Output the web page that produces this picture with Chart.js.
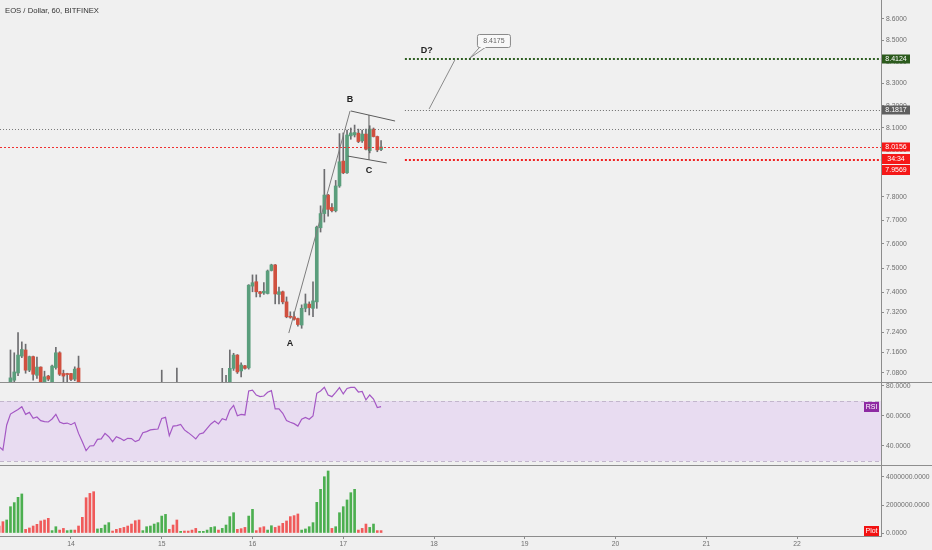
<!DOCTYPE html>
<html>
<head>
<meta charset="utf-8">
<script src="https://cdn.jsdelivr.net/npm/chart.js@4.4.0/dist/chart.umd.min.js"></script>
<style>
  body { margin: 0; width: 932px; height: 550px; overflow: hidden; position: relative; background: #f0f0f0; font-family: "Liberation Sans", Arial, sans-serif; }
  canvas { position: absolute; left: 0; }
  #title { position: absolute; left: 5px; top: 6px; font-size: 7.7px; color: #333; white-space: nowrap; }
  .sep { position: absolute; left: 0; width: 932px; height: 1px; background: #8e8e8e; }
</style>
</head>
<body>
<canvas id="priceChart" width="932" height="382" style="top:0"></canvas>
<canvas id="rsiChart" width="932" height="82" style="top:383px"></canvas>
<canvas id="volumeChart" width="932" height="85" style="top:465px"></canvas>
<div class="sep" style="top:382px"></div>
<div class="sep" style="top:465px"></div>
<div id="title">EOS / Dollar, 60, BITFINEX</div>
<script>
// hourly bars, hour 0 = day 14 00:00
const firstHour = -19;
const dayLabels = ['14', '15', '16', '17', '18', '19', '20', '21', '22'];
const priceTicks = [8.6, 8.5, 8.4, 8.3, 8.2, 8.1, 8.0, 7.9, 7.8, 7.7, 7.6, 7.5, 7.4, 7.32, 7.24, 7.16, 7.08];
const rsiTicks = [40, 60, 80];
const volumeTicks = [0, 2000000, 4000000];

// candles (only the bars that reach into the visible price range)
const candleHours = [-16, -15, -14, -13, -12, -11, -10, -9, -8, -7, -6, -5, -4, -3, -2, -1, 0, 1, 2,
  24, 28,
  40, 41, 42, 43, 44, 45, 46, 47, 48, 49, 50, 51, 52, 53, 54, 55, 56, 57, 58, 59, 60, 61,
  62, 63, 64, 65, 66, 67, 68, 69, 70, 71, 72, 73, 74, 75, 76, 77, 78, 79, 80, 81, 82];
const opens = [7.040, 7.052, 7.080, 7.146, 7.170, 7.091, 7.144, 7.071, 7.103, 7.046, 7.068, 7.046, 7.101, 7.159, 7.078, 7.076, 7.078, 7.056, 7.099,
  7.010, 7.010,
  7.020, 7.030, 7.030, 7.098, 7.150, 7.088, 7.108, 7.100, 7.426, 7.444, 7.403, 7.398, 7.396, 7.490, 7.513, 7.392, 7.403, 7.362, 7.304, 7.302, 7.295, 7.269,
  7.336, 7.353, 7.336, 7.362, 7.668, 7.728, 7.807, 7.754, 7.740, 7.846, 7.954, 7.903, 8.065, 8.069, 8.077, 8.043, 8.073, 8.000, 8.095, 8.062, 8.005];
const highs = [7.170, 7.159, 7.239, 7.202, 7.193, 7.146, 7.146, 7.142, 7.104, 7.087, 7.071, 7.111, 7.180, 7.163, 7.091, 7.079, 7.079, 7.104, 7.146,
  7.091, 7.099,
  7.098, 7.071, 7.170, 7.157, 7.152, 7.120, 7.110, 7.432, 7.472, 7.472, 7.405, 7.440, 7.492, 7.516, 7.515, 7.422, 7.406, 7.382, 7.322, 7.322, 7.297, 7.350,
  7.394, 7.362, 7.444, 7.675, 7.761, 7.918, 7.810, 7.771, 7.870, 8.075, 8.078, 8.091, 8.100, 8.113, 8.095, 8.091, 8.095, 8.110, 8.100, 8.064, 8.044];
const lows = [7.030, 7.040, 7.070, 7.140, 7.079, 7.085, 7.052, 7.059, 7.030, 7.030, 7.050, 7.030, 7.095, 7.070, 7.046, 7.046, 7.050, 7.050, 7.030,
  6.990, 6.990,
  7.000, 7.000, 7.020, 7.090, 7.078, 7.065, 7.095, 7.095, 7.403, 7.382, 7.382, 7.392, 7.394, 7.488, 7.354, 7.354, 7.354, 7.298, 7.296, 7.288, 7.264, 7.256,
  7.322, 7.309, 7.302, 7.336, 7.650, 7.692, 7.717, 7.735, 7.735, 7.840, 7.899, 7.900, 8.050, 8.060, 8.035, 8.036, 8.003, 7.990, 8.060, 7.995, 8.000];
const closes = [7.061, 7.084, 7.150, 7.172, 7.091, 7.144, 7.075, 7.103, 7.046, 7.065, 7.056, 7.107, 7.159, 7.075, 7.068, 7.074, 7.055, 7.095, 7.040,
  7.030, 7.020,
  7.030, 7.020, 7.098, 7.150, 7.084, 7.111, 7.098, 7.430, 7.440, 7.403, 7.396, 7.405, 7.488, 7.513, 7.394, 7.403, 7.362, 7.302, 7.300, 7.292, 7.271, 7.336,
  7.354, 7.339, 7.366, 7.671, 7.728, 7.807, 7.746, 7.740, 7.846, 7.951, 7.903, 8.069, 8.078, 8.080, 8.040, 8.073, 8.006, 8.095, 8.062, 8.003, 8.016];

// RSI(14), one value per bar from firstHour
const rsiValues = [39.5, 37.3, 54.0, 61.3, 62.9, 64.4, 66.2, 61.1, 62.4, 58.4, 59.3, 56.9, 56.2, 56.0, 58.0, 61.1, 56.0, 54.9, 55.3,
  54.2, 55.6, 48.4, 42.9, 36.9, 40.0, 40.2, 44.4, 44.7, 48.4, 46.2, 42.9, 46.2, 45.1, 43.6, 45.1, 44.9, 42.9, 44.0, 48.9, 49.6, 50.7, 51.1, 51.3,
  58.4, 59.1, 46.9, 53.3, 53.6, 54.4, 50.7, 48.9, 46.9, 44.7, 48.0, 48.7, 51.8, 54.7, 56.7, 54.7, 58.2, 57.3, 64.0, 67.1, 60.2, 61.1, 60.7,
  76.7, 77.3, 74.0, 72.9, 73.3, 75.8, 76.9, 64.7, 64.7, 61.8, 56.9, 55.8, 54.9, 53.3, 57.8, 59.1, 57.8, 60.0,
  75.1, 76.7, 79.1, 74.0, 72.9, 75.8, 78.9, 74.7, 78.4, 79.1, 79.1, 76.0, 76.4, 70.7, 74.0, 71.3, 65.6, 66.2];

// volume "Plot", one value per bar from firstHour, with its up/down colour flag
const volumeValues = [500000, 810000, 930000, 1880000, 2170000, 2550000, 2790000, 260000, 360000, 500000,
  620000, 860000, 930000, 1050000, 170000, 450000, 210000, 330000, 170000, 210000,
  210000, 500000, 1120000, 2520000, 2830000, 2950000, 290000, 330000, 570000, 740000,
  140000, 260000, 330000, 400000, 500000, 640000, 880000, 930000, 170000, 450000,
  500000, 640000, 740000, 1210000, 1330000, 260000, 570000, 930000, 120000, 140000,
  140000, 210000, 330000, 120000, 120000, 210000, 400000, 450000, 210000, 330000,
  570000, 1170000, 1450000, 260000, 310000, 400000, 1210000, 1690000, 170000, 380000,
  450000, 210000, 520000, 400000, 500000, 690000, 860000, 1170000, 1240000, 1360000,
  210000, 290000, 450000, 740000, 2190000, 3120000, 4020000, 4430000, 330000, 450000,
  1450000, 1880000, 2360000, 2880000, 3120000, 210000, 330000, 640000, 400000, 640000,
  170000, 170000];
const volumeUp = [0, 0, 1, 1, 1, 1, 1, 0, 0, 0, 0, 0, 0, 0, 1, 1, 0, 0, 1, 1,
  0, 0, 0, 0, 0, 0, 1, 1, 1, 1, 0, 0, 0, 0, 0, 0, 0, 0, 1, 1,
  1, 1, 1, 1, 1, 0, 0, 0, 1, 0, 0, 0, 0, 1, 1, 1, 1, 1, 0, 1,
  1, 1, 1, 0, 0, 0, 1, 1, 0, 0, 0, 1, 1, 0, 0, 0, 0, 0, 0, 0,
  1, 1, 1, 1, 1, 1, 1, 1, 0, 1, 1, 1, 1, 1, 1, 0, 0, 0, 1, 1,
  0, 0];

// horizontal levels and the hand-drawn pattern (hour, price)
const targetLevel = 8.4124;
const breakoutLevel = 8.1817;
const flagHighLevel = 8.0956;
const lastPrice = 8.0156;
const stopLevel = 7.9569;
const countdown = '34:34';
const calloutPrice = 8.4175;
const levelStartHour = 88.3;
const legAB = [[57.6, 7.237], [73.8, 8.176]];
const flagTop = [[74.0, 8.176], [85.7, 8.131]];
const flagBottom = [[73.2, 7.976], [83.5, 7.946]];
const flagMid = [[78.8, 8.158], [78.8, 7.959]];
const projection = [[94.7, 8.185], [101.5, 8.408]];
const calloutAnchor = [105.5, calloutPrice];
const pointLabels = [['A', 57.9, 7.197], ['B', 73.8, 8.226], ['C', 78.8, 7.915], ['D?', 94.1, 8.450]];

const xMin = -18.77, xMax = 214.2;
const UP = '#5a9e7c', DOWN = '#d0503f', WICK = '#6d6d70';
const VOL_UP = '#4caf50', VOL_DOWN = '#f05a5a';
const AXIS = '#8c8c8c', LABEL = '#6e6e6e';
const tickFont = { family: '"Liberation Sans", Arial, sans-serif', size: 6.8 };
const barHours = rsiValues.map((v, i) => firstHour + i);

function xAxis(show) {
  return {
    type: 'linear', min: xMin, max: xMax, bounds: 'data', offset: false, display: show,
    grid: { display: show, drawOnChartArea: false, offset: false, tickLength: 3, color: AXIS },
    border: { display: show, color: AXIS },
    afterBuildTicks: s => { s.ticks = dayLabels.map((d, i) => ({ value: i * 24 })); },
    ticks: { autoSkip: false, maxRotation: 0, padding: 1, color: LABEL, font: tickFont, callback: (v, i) => dayLabels[i] },
    afterFit: s => {
      if (show) s.height = 14;
      s.paddingLeft = 0; s.paddingRight = 0;
    }
  };
}

function rightAxis(extra, tickValues) {
  return Object.assign({
    position: 'right',
    bounds: 'data',
    grid: { drawOnChartArea: false, tickLength: 3, color: AXIS },
    border: { color: AXIS },
    afterBuildTicks: s => { s.ticks = tickValues.map(v => ({ value: v })); },
    ticks: { autoSkip: false, padding: 2, color: LABEL, font: tickFont, callback: v => Number(v).toFixed(4) },
    afterFit: s => { s.width = 51; s.paddingTop = 0; s.paddingBottom = 0; }
  }, extra);
}

const baseOptions = {
  responsive: false, animation: false, events: [],
  layout: { padding: 0 },
  plugins: { legend: { display: false }, tooltip: { enabled: false } }
};

function tag(ctx, x, yc, w, h, fill, text) {
  ctx.fillStyle = fill;
  ctx.fillRect(x, yc - h / 2, w, h);
  ctx.fillStyle = '#fff';
  ctx.font = '7px "Liberation Sans", Arial, sans-serif';
  ctx.textAlign = 'center';
  ctx.textBaseline = 'middle';
  ctx.fillText(text, x + w / 2, yc + 0.5);
}

const drawingsPlugin = {
  id: 'drawings',
  afterDatasetsDraw(chart) {
    const { ctx, chartArea, scales: { x, y } } = chart;
    const px = h => x.getPixelForValue(h);
    const py = p => y.getPixelForValue(p);
    const line = (pts, color, width, dash) => {
      ctx.beginPath();
      ctx.strokeStyle = color; ctx.lineWidth = width; ctx.setLineDash(dash || []);
      ctx.moveTo(px(pts[0][0]), py(pts[0][1]));
      ctx.lineTo(px(pts[1][0]), py(pts[1][1]));
      ctx.stroke();
    };
    const hline = (price, fromX, color, width, dash) => {
      const yy = Math.round(py(price)) + (width % 2 ? 0.5 : 0);
      ctx.beginPath();
      ctx.strokeStyle = color; ctx.lineWidth = width; ctx.setLineDash(dash);
      ctx.moveTo(fromX, yy); ctx.lineTo(chartArea.right, yy);
      ctx.stroke();
    };
    ctx.save();
    hline(flagHighLevel, chartArea.left, '#7a7a7a', 1, [1, 2]);
    hline(lastPrice, chartArea.left, '#f03030', 1, [2, 2]);
    hline(breakoutLevel, px(levelStartHour), '#6a6a6a', 1, [1, 2]);
    hline(targetLevel, px(levelStartHour), '#2e5e22', 2, [2, 2]);
    hline(stopLevel, px(levelStartHour), '#f02020', 2, [2, 2]);

    line(legAB, '#7d7d7d', 1);
    line(flagTop, '#5c5c5c', 1);
    line(flagBottom, '#5c5c5c', 1);
    line(flagMid, '#5c5c5c', 1);
    line(projection, '#8a8a8a', 1);

    // callout with the projected price
    const ax = px(calloutAnchor[0]), ay = py(calloutAnchor[1]);
    const bx = ax + 7, by = ay - 24, bw = 33, bh = 13;
    ctx.setLineDash([]);
    ctx.beginPath();
    ctx.moveTo(bx + 3, by + bh);
    ctx.lineTo(ax, ay);
    ctx.lineTo(bx + 9, by + bh);
    ctx.fillStyle = '#f8f8f8'; ctx.strokeStyle = '#8a8a8a'; ctx.lineWidth = 1;
    ctx.fill(); ctx.stroke();
    ctx.beginPath();
    ctx.roundRect(bx + 0.5, by + 0.5, bw, bh, 2);
    ctx.fill(); ctx.stroke();
    ctx.fillStyle = '#f8f8f8';
    ctx.fillRect(bx + 3.5, by + bh - 1, 5, 2);
    ctx.fillStyle = '#666';
    ctx.font = '7px "Liberation Sans", Arial, sans-serif';
    ctx.textAlign = 'center'; ctx.textBaseline = 'middle';
    ctx.fillText(calloutPrice.toFixed(4), bx + bw / 2 + 0.5, by + bh / 2 + 1);

    ctx.fillStyle = '#222';
    ctx.font = 'bold 9px "Liberation Sans", Arial, sans-serif';
    pointLabels.forEach(([t, h, p]) => ctx.fillText(t, px(h), py(p)));
    ctx.restore();
  },
  afterDraw(chart) {
    const { ctx, chartArea, scales: { y } } = chart;
    const x0 = chartArea.right + 1;
    ctx.save();
    tag(ctx, x0, Math.round(y.getPixelForValue(targetLevel)), 28, 9, '#2b5a1c', targetLevel.toFixed(4));
    tag(ctx, x0, Math.round(y.getPixelForValue(breakoutLevel)), 28, 9, '#5f5f5f', breakoutLevel.toFixed(4));
    const yl = Math.round(y.getPixelForValue(lastPrice));
    tag(ctx, x0, yl, 28, 9, '#f51818', lastPrice.toFixed(4));
    tag(ctx, x0, yl + 12, 28, 10, '#f51818', countdown);
    tag(ctx, x0, yl + 23, 28, 10, '#f51818', stopLevel.toFixed(4));
    ctx.restore();
  }
};

new Chart(document.getElementById('priceChart'), {
  type: 'bar',
  data: {
    datasets: [
      {
        data: candleHours.map((h, i) => ({ x: h, y: [lows[i], highs[i]] })),
        backgroundColor: WICK, barThickness: 1, grouped: false, order: 2
      },
      {
        data: candleHours.map((h, i) => ({ x: h, y: [opens[i], closes[i]] })),
        backgroundColor: candleHours.map((h, i) => closes[i] >= opens[i] ? UP : DOWN),
        barThickness: 3, minBarLength: 1, grouped: false, order: 1
      }
    ]
  },
  options: Object.assign({}, baseOptions, {
    scales: {
      x: xAxis(false),
      y: rightAxis({ type: 'logarithmic', min: 7.045, max: 8.690 }, priceTicks)
    }
  }),
  plugins: [drawingsPlugin]
});

const rsiPlugin = {
  id: 'rsiBand',
  beforeDatasetsDraw(chart) {
    const { ctx, chartArea, scales: { y } } = chart;
    const y70 = y.getPixelForValue(70), y30 = y.getPixelForValue(30);
    ctx.save();
    ctx.fillStyle = 'rgba(153, 21, 255, 0.09)';
    ctx.fillRect(chartArea.left, y70, chartArea.right - chartArea.left, y30 - y70);
    ctx.strokeStyle = '#c2b6cc'; ctx.lineWidth = 1; ctx.setLineDash([4, 3]);
    [y70, y30].forEach(yy => {
      ctx.beginPath();
      ctx.moveTo(chartArea.left, Math.round(yy) + 0.5);
      ctx.lineTo(chartArea.right, Math.round(yy) + 0.5);
      ctx.stroke();
    });
    ctx.restore();
  },
  afterDraw(chart) {
    const { ctx, chartArea, scales: { y } } = chart;
    const yy = Math.round(y.getPixelForValue(rsiValues[rsiValues.length - 1]));
    ctx.save();
    tag(ctx, chartArea.right - 17, yy, 15, 10, '#8e2aa3', 'RSI');
    ctx.restore();
  }
};

new Chart(document.getElementById('rsiChart'), {
  type: 'line',
  data: {
    datasets: [{
      data: barHours.map((h, i) => ({ x: h, y: rsiValues[i] })),
      borderColor: '#a458c4', borderWidth: 1.2, pointRadius: 0, tension: 0
    }]
  },
  options: Object.assign({}, baseOptions, {
    scales: {
      x: xAxis(false),
      y: rightAxis({ type: 'linear', min: 27.33, max: 82 }, rsiTicks)
    }
  }),
  plugins: [rsiPlugin]
});

const volumeTagPlugin = {
  id: 'volumeTag',
  afterDraw(chart) {
    const { ctx, chartArea, scales: { y } } = chart;
    const yy = Math.round(y.getPixelForValue(volumeValues[volumeValues.length - 1]));
    ctx.save();
    tag(ctx, chartArea.right - 17, yy, 15, 10, '#f21212', 'Plot');
    ctx.restore();
  }
};

new Chart(document.getElementById('volumeChart'), {
  type: 'bar',
  data: {
    datasets: [{
      data: barHours.map((h, i) => ({ x: h, y: volumeValues[i] })),
      backgroundColor: volumeUp.map(u => u ? VOL_UP : VOL_DOWN),
      barThickness: 2, grouped: false
    }]
  },
  options: Object.assign({}, baseOptions, {
    scales: {
      x: xAxis(true),
      y: rightAxis({ type: 'linear', min: -214000, max: 4857000 }, volumeTicks)
    }
  }),
  plugins: [volumeTagPlugin]
});
</script>
</body>
</html>
